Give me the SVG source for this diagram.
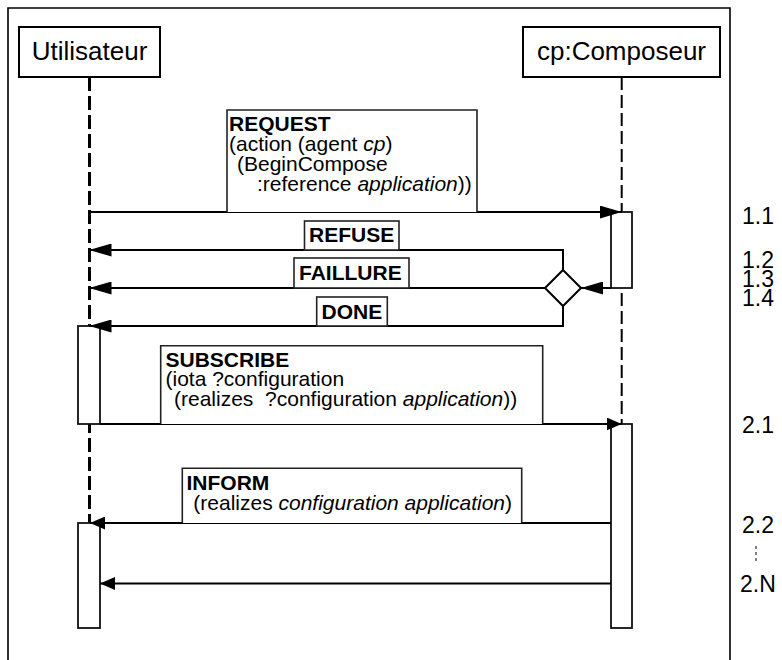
<svg xmlns="http://www.w3.org/2000/svg" width="782" height="660" viewBox="0 0 782 660">
<defs>
<style>
text{font-family:"Liberation Sans",Arial,sans-serif;fill:#000}
.head{font-size:26px}
.msg{font-size:21px}
.b{font-weight:bold}
.i{font-style:italic}
.num{font-size:23px}
.box{fill:#fff;stroke:#000;stroke-width:2}
.lbl{fill:#fff;stroke:#222;stroke-width:1.6}
.act{fill:#fff;stroke:#111;stroke-width:1.8}
.arr{fill:none;stroke:#000;stroke-width:2}
.frame{fill:none;stroke:#000;stroke-width:1.6}
</style>
<marker id="big" markerUnits="userSpaceOnUse" markerWidth="22" markerHeight="13" refX="22" refY="6.5" orient="auto" viewBox="0 0 22 13">
<path d="M0,0 L22,6.5 L0,13 z" fill="#000"/>
</marker>
<marker id="small" markerUnits="userSpaceOnUse" markerWidth="15" markerHeight="13" refX="15" refY="6.5" orient="auto" viewBox="0 0 15 13">
<path d="M0,0 L15,6.5 L0,13 z" fill="#000"/>
</marker>
</defs>
<rect width="782" height="660" fill="#fff"/>
<path class="frame" d="M8,660 V8 H730 V660"/>

<g id="utilisateur">
<rect class="box" x="19" y="27" width="141" height="50"/>
<text class="head" x="89.5" y="60" text-anchor="middle">Utilisateur</text>
<line x1="89.5" y1="77" x2="89.5" y2="600" stroke="#000" stroke-width="3" stroke-dasharray="14 5"/>
<rect class="act" x="78" y="326" width="22" height="98"/>
<rect class="act" x="78" y="523" width="22" height="105"/>
</g>

<g id="composeur">
<rect class="box" x="523" y="27" width="197" height="50"/>
<text class="head" x="621.5" y="60" text-anchor="middle">cp:Composeur</text>
<line x1="621.7" y1="77" x2="621.7" y2="600" stroke="#000" stroke-width="2" stroke-dasharray="13 5"/>
<rect class="act" x="611" y="212" width="21" height="76"/>
<rect class="act" x="611" y="424" width="21" height="204"/>
</g>

<g id="connectors">
<line class="arr" x1="89.5" y1="212" x2="621.7" y2="212" stroke-width="3" marker-end="url(#big)"/>
<path class="arr" d="M563,270 V250 H89.5" marker-end="url(#big)"/>
<path class="arr" d="M545,288 H89.5" marker-end="url(#big)"/>
<path class="arr" d="M563,306 V326 H89.5" marker-end="url(#big)"/>
<line class="arr" x1="611" y1="288" x2="581" y2="288" marker-end="url(#big)"/>
<line class="arr" x1="100" y1="424" x2="621.7" y2="424" marker-end="url(#small)"/>
<line class="arr" x1="611" y1="523" x2="90" y2="523" marker-end="url(#small)"/>
<line class="arr" x1="611" y1="583.5" x2="100" y2="583.5" marker-end="url(#small)"/>
</g>

<g id="decision">
<polygon points="563,270 581,288 563,306 545,288" fill="#fff" stroke="#000" stroke-width="2"/>
</g>

<g id="request">
<path class="lbl" d="M227,212 V110 H477 V212"/>
<text class="msg b" x="229" y="131">REQUEST</text>
<text class="msg" x="229" y="151">(action (agent <tspan class="i">cp</tspan>)</text>
<text class="msg" x="237" y="171">(BeginCompose</text>
<text class="msg" x="257" y="191">:reference <tspan class="i">application</tspan>))</text>
</g>

<g id="refuse">
<rect class="lbl" x="304.5" y="221" width="94.5" height="29"/>
<text class="msg b" x="309" y="242">REFUSE</text>
</g>

<g id="faillure">
<rect class="lbl" x="294" y="258" width="115" height="30"/>
<text class="msg b" x="299" y="280">FAILLURE</text>
</g>

<g id="done">
<rect class="lbl" x="316.7" y="297" width="70.6" height="29"/>
<text class="msg b" x="321.5" y="318.5">DONE</text>
</g>

<g id="subscribe">
<path class="lbl" d="M160.7,424 V345.7 H542.7 V424"/>
<text class="msg b" x="165.5" y="366.5">SUBSCRIBE</text>
<text class="msg" x="165.5" y="386">(iota ?configuration</text>
<text class="msg" x="174" y="406" xml:space="preserve">(realizes  ?configuration <tspan class="i">application</tspan>))</text>
</g>

<g id="inform">
<path class="lbl" d="M182.3,523 V468.3 H521.7 V523"/>
<text class="msg b" x="186.5" y="490">INFORM</text>
<text class="msg" x="193.3" y="510">(realizes <tspan class="i">configuration application</tspan>)</text>
</g>

<g id="numbers">
<text class="num" x="742" y="224">1.1</text>
<text class="num" x="742" y="268">1.2</text>
<text class="num" x="742" y="287">1.3</text>
<text class="num" x="742" y="306">1.4</text>
<text class="num" x="742" y="433">2.1</text>
<text class="num" x="742" y="533">2.2</text>
<line x1="756" y1="546" x2="756" y2="562" stroke="#000" stroke-width="1" stroke-dasharray="3 3"/>
<text class="num" x="740" y="592">2.N</text>
</g>
</svg>
